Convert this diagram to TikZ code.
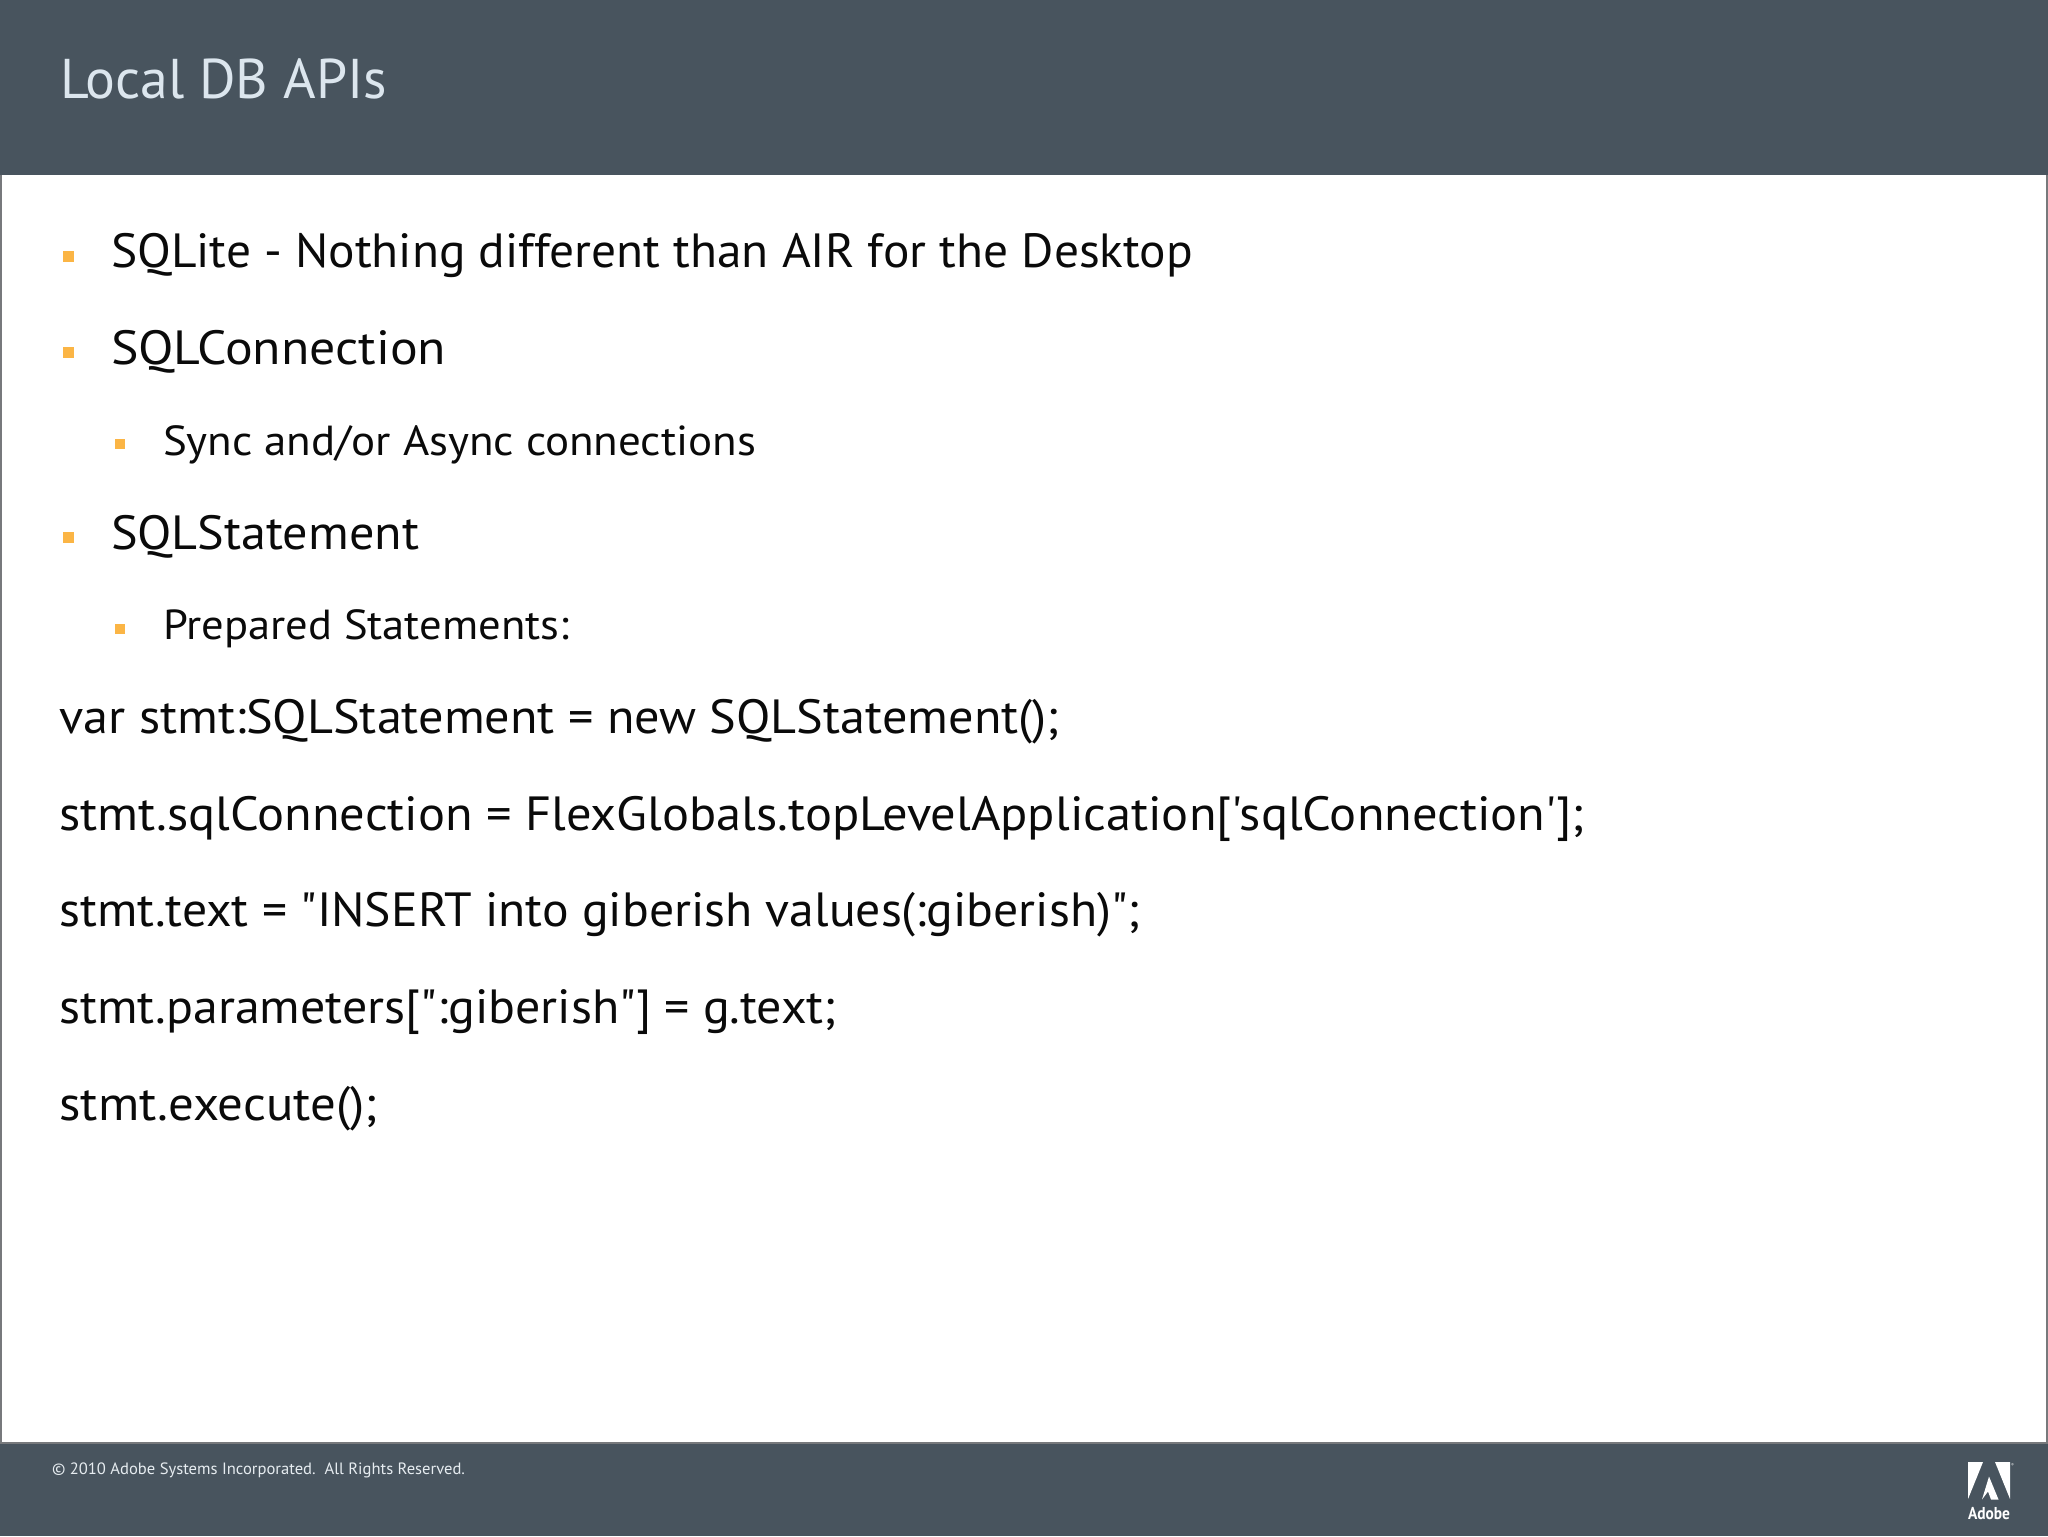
\documentclass[tikz,border=0pt]{standalone}
\usepackage{fontspec}
\usepackage{graphicx}
\setmainfont{PT Sans}[Ligatures=TeXOff]
\definecolor{bar}{HTML}{48545E}
\definecolor{titlec}{HTML}{DCE6EE}
\definecolor{bul}{HTML}{FBB545}
\definecolor{edge}{HTML}{77797C}
\definecolor{foot}{HTML}{E6ECF0}
\definecolor{ink}{HTML}{0A0A0A}
\newcommand{\fitw}[2]{\resizebox{\dimexpr0.5pt*#1\relax}{\height}{#2}}
\tikzset{
  txt/.style={anchor=base west,inner sep=0pt,outer sep=0pt,text=ink},
  big/.style={txt,font=\fontsize{24}{28}\selectfont},
  sub/.style={txt,font=\fontsize{21}{25}\selectfont},
  bulA/.style={fill=bul,draw=none,minimum size=5.5pt,inner sep=0pt,anchor=center,rectangle},
  bulB/.style={fill=bul,draw=none,minimum size=5pt,inner sep=0pt,anchor=center,rectangle}
}
\begin{document}
\begin{tikzpicture}[x=0.5pt,y=-0.5pt]
\useasboundingbox (0,0) rectangle (2048,1536);
\fill[edge] (0,0) rectangle (2048,1536);
\fill[white] (2,175) rectangle (2046,1442);
\fill[bar] (0,0) rectangle (2048,175);
\fill[bar] (0,1443.5) rectangle (2048,1536);
\node[txt,text=titlec,font=\fontsize{28}{32}\selectfont] (title) at (60,98) {\fitw{327}{Local DB APIs}};
\node[bulA] (b1) at (68,256) {};
\node[big] (t1) at (111,267) {\fitw{1082}{SQLite - Nothing different than AIR for the Desktop}};
\node[bulA] (b2) at (68,352) {};
\node[big] (t2) at (111,364) {\fitw{335}{SQLConnection}};
\node[bulB] (b3) at (119.5,444) {};
\node[sub] (t3) at (163,455) {\fitw{593}{Sync and/or Async connections}};
\node[bulA] (b4) at (68,537.5) {};
\node[big] (t4) at (111,549) {\fitw{308}{SQLStatement}};
\node[bulB] (b5) at (119.5,629) {};
\node[sub] (t5) at (163,639.5) {\fitw{406}{Prepared Statements:}};
\node[big] (c1) at (59.5,733) {\fitw{1000}{var stmt:SQLStatement = new SQLStatement();}};
\node[big] (c2) at (59.5,830) {\fitw{1525}{stmt.sqlConnection = FlexGlobals.topLevelApplication['sqlConnection'];}};
\node[big] (c3) at (59.5,926) {\fitw{1081}{stmt.text = "INSERT into giberish values(:giberish)";}};
\node[big] (c4) at (59.5,1023) {\fitw{777}{stmt.parameters[":giberish"] = g.text;}};
\node[big] (c5) at (59.5,1120) {\fitw{318}{stmt.execute();}};
\node[txt,text=foot,font=\fontsize{8.2}{10}\selectfont] (copy) at (52,1474) {\fitw{413}{© 2010 Adobe Systems Incorporated.\ \ All Rights Reserved.}};
\fill[white] (1968,1462) -- (1983,1462) -- (1968,1499) -- cycle;
\fill[white] (1995,1462) -- (2010,1462) -- (2010,1499) -- cycle;
\fill[white] (1989,1476.5) -- (1998.5,1499.5) -- (1991,1499.5) -- (1988,1491.5) -- (1982,1499.5) -- cycle;
\node[txt,text=white,font=\fontsize{8.6}{10}\bfseries\selectfont] (logo) at (1968,1519) {\fitw{42}{Adobe}};
\node[txt,text=white,font=\fontsize{2}{2}\selectfont] (reg) at (2011,1466) {®};
\end{tikzpicture}
\end{document}
